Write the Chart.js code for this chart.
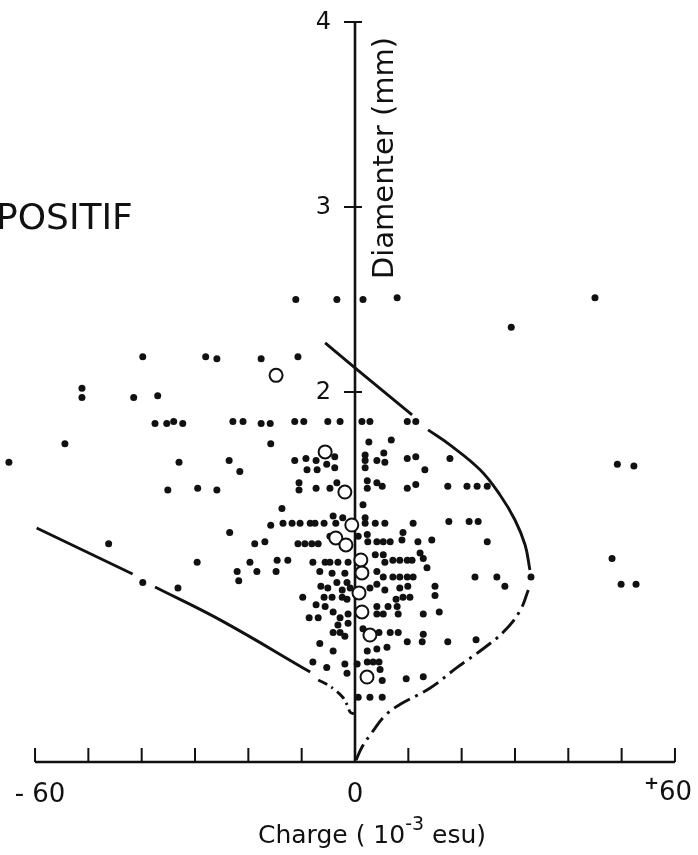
<!DOCTYPE html>
<html>
<head>
<meta charset="utf-8">
<script src="https://cdn.jsdelivr.net/npm/chart.js@4.4.1/dist/chart.umd.min.js"></script>
<style>
html, body { margin: 0; padding: 0; background: #fff; }
canvas { display: block; }
</style>
</head>
<body>
<canvas id="chart" width="698" height="855"></canvas>
<script>
// filled dots: charge (10^-3 esu) and diameter (mm)
const dotX = [
  -11.1, -3.4, 1.5, 7.9, 45.0, 29.3,
  -39.8, -28.0, -25.9, -17.6, -10.7,
  -51.2, -51.2, -41.5, -37.0,
  -37.5, -35.3, -34.0, -32.3, -22.9, -21.0, -17.6, -15.9, -11.3, -9.6, -5.1, -2.8, 1.3, 2.8, 9.8, 11.4,
  -54.4, -15.8, 2.6, 6.8,
  -64.9, -33.0, -23.6, -21.6, -11.3, -9.2, -7.3, -3.8, -5.3, 1.9, 1.9, 4.1, 5.4, 5.6, 9.8, 11.4, 17.8, 49.2, 52.3,
  -9.0, -7.1, -3.8, 1.9, 13.1,
  -35.1, -29.5, -25.9, -10.5, -10.5, -7.3, -4.7, -3.4, 2.3, 2.3, 4.1, 5.1, 9.8, 11.4, 17.4, 21.0, 22.9, 24.8,
  -13.7, 1.5,
  -23.5, -15.8, -13.5, -11.8, -10.3, -8.4, -7.5, -5.8, -4.1, -3.6, -2.3, 1.9, 1.9, 3.8, 5.6, 10.9, 17.6, 21.4, 23.1,
  -46.2, -18.8, -16.9, -10.7, -9.4, -8.1, -6.9, -4.7, 0.6, 2.3, 2.4, 4.1, 5.3, 6.6, 9.0, 8.8, 11.8, 14.4, 24.8,
  -29.6, -19.7, -14.6, -12.6, -7.9, -5.6, -4.7, -3.2, -1.3, 3.8, 5.3, 5.6, 7.1, 8.4, 9.8, 10.7, 12.2, 12.8, 13.5, 48.2,
  -22.1, -18.4, -14.8, -6.6, -4.3, -1.9, 4.1, 5.3, 7.1, 8.4, 9.8, 10.9, 22.5, 26.6, 33.0, 28.1, -33.2, -21.8, -39.8, 49.9, 52.7,
  -9.8, -6.4, -5.1, -3.4, -1.5, -2.4, -0.9, 2.8, 4.1, 5.6, 8.4, 9.9, 9.0, 10.3, 7.7, 15.0, 15.0, -5.8, -4.3, -2.4, -1.5,
  -7.3, -5.6, -4.1, -2.8, -1.3, -8.6, -6.9, 4.1, 4.1, 5.3, 6.2, 7.9, 8.1, 12.8, 15.8,
  -3.2, -1.3, -2.8, -4.1, -1.9, 1.5, 4.5, 6.6, 8.1, 9.8, 12.6, 12.8, 17.4, 22.7,
  -6.6, -4.1, 2.3, 4.1, 6.0,
  -7.9, -5.3, -1.9, -1.5, 0.4, 2.3, 3.4, 4.5, 4.7, 5.1, 9.6, 12.8,
  0.6, 2.8, 5.1
];
const dotY = [
  2.50, 2.50, 2.50, 2.51, 2.51, 2.35,
  2.19, 2.19, 2.18, 2.18, 2.19,
  2.02, 1.97, 1.97, 1.98,
  1.83, 1.83, 1.84, 1.83, 1.84, 1.84, 1.83, 1.83, 1.84, 1.84, 1.84, 1.84, 1.84, 1.84, 1.84, 1.84,
  1.72, 1.72, 1.73, 1.74,
  1.62, 1.62, 1.63, 1.57, 1.63, 1.64, 1.63, 1.65, 1.61, 1.66, 1.63, 1.63, 1.67, 1.62, 1.64, 1.65, 1.64, 1.61, 1.60,
  1.58, 1.58, 1.59, 1.59, 1.58,
  1.47, 1.48, 1.47, 1.51, 1.47, 1.48, 1.48, 1.51, 1.52, 1.48, 1.51, 1.49, 1.48, 1.50, 1.49, 1.49, 1.49, 1.49,
  1.37, 1.39,
  1.24, 1.28, 1.29, 1.29, 1.29, 1.29, 1.29, 1.29, 1.33, 1.29, 1.32, 1.32, 1.29, 1.29, 1.29, 1.29, 1.30, 1.30, 1.30,
  1.18, 1.18, 1.19, 1.18, 1.18, 1.18, 1.18, 1.22, 1.22, 1.23, 1.19, 1.19, 1.19, 1.19, 1.24, 1.20, 1.19, 1.20, 1.19,
  1.08, 1.08, 1.09, 1.09, 1.08, 1.08, 1.08, 1.08, 1.08, 1.12, 1.12, 1.08, 1.09, 1.09, 1.09, 1.09, 1.13, 1.10, 1.05, 1.10,
  1.03, 1.03, 1.03, 1.03, 1.02, 1.02, 1.03, 1.00, 1.00, 1.00, 1.00, 1.00, 1.00, 1.00, 1.00, 0.95, 0.94, 0.98, 0.97, 0.96, 0.96,
  0.89, 0.95, 0.94, 0.97, 0.97, 0.93, 0.94, 0.94, 0.96, 0.93, 0.94, 0.95, 0.89, 0.89, 0.88, 0.95, 0.90, 0.89, 0.89, 0.89, 0.88,
  0.85, 0.84, 0.81, 0.78, 0.80, 0.78, 0.78, 0.84, 0.80, 0.80, 0.84, 0.84, 0.80, 0.80, 0.81,
  0.74, 0.75, 0.70, 0.70, 0.68, 0.72, 0.70, 0.70, 0.70, 0.65, 0.65, 0.69, 0.65, 0.66,
  0.64, 0.60, 0.60, 0.61, 0.62,
  0.54, 0.51, 0.53, 0.48, 0.53, 0.54, 0.54, 0.54, 0.50, 0.44, 0.45, 0.46,
  0.35, 0.35, 0.35
];

// open circles
const ringX = [-14.8, -5.6, -1.9, -0.6, -3.6, -1.7, 1.1, 1.3, 0.75, 1.3, 2.8, 2.25];
const ringY = [2.09, 1.676, 1.459, 1.281, 1.211, 1.173, 1.092, 1.022, 0.914, 0.811, 0.686, 0.459];

// boundary curves (solid upper parts, dash-dot lower parts)
const leftAX = [-59.7, -41.7];
const leftAY = [1.265, 1.016];
const leftBX = [-37.5, -25.3, -8.4];
const leftBY = [0.946, 0.768, 0.486];
const leftDashX = [-6.9, -5.3, -3.8, -2.3, -1.5, -0.9, -0.2];
const leftDashY = [0.443, 0.42, 0.39, 0.35, 0.31, 0.27, 0.26];
const rightAX = [-5.6, 0, 10.7];
const rightAY = [2.265, 2.13, 1.876];
const rightBX = [13.7, 17.8, 23.5, 27.2, 30.0, 31.9, 32.8];
const rightBY = [1.795, 1.714, 1.578, 1.443, 1.308, 1.173, 1.038];
const rightDashX = [32.5, 31.0, 28.1, 24.4, 19.1, 14.1, 8.4, 5.6, 3.2, 1.3, 0.2];
const rightDashY = [0.93, 0.82, 0.71, 0.62, 0.51, 0.40, 0.31, 0.25, 0.16, 0.08, 0.01];

// axes
const xTicks = [-60, -50, -40, -30, -20, -10, 0, 10, 20, 30, 40, 50, 60];
const yTicks = [2, 3, 4];
const yTickLabels = ["2", "3", "4"];

const pts = (xs, ys) => xs.map((v, i) => ({ x: v, y: ys[i] }));
const ink = "#111";

function curve(xs, ys, dash) {
  return {
    data: pts(xs, ys),
    showLine: true,
    pointRadius: 0,
    borderColor: ink,
    borderWidth: 2.9,
    borderDash: dash || [],
    tension: 0.4,
    order: 3
  };
}

const axesPlugin = {
  id: "axes",
  beforeDatasetsDraw(chart) {
    const { ctx, scales: { x, y } } = chart;
    const x0 = x.getPixelForValue(0);
    const y0 = y.getPixelForValue(0);
    ctx.save();
    ctx.strokeStyle = ink;
    ctx.lineWidth = 2.6;
    ctx.beginPath();
    ctx.moveTo(x.getPixelForValue(xTicks[0]), y0);
    ctx.lineTo(x.getPixelForValue(xTicks[xTicks.length - 1]), y0);
    ctx.moveTo(x0, y0);
    ctx.lineTo(x0, y.getPixelForValue(4));
    ctx.stroke();
    ctx.lineWidth = 2;
    ctx.beginPath();
    xTicks.forEach(v => {
      const px = x.getPixelForValue(v);
      ctx.moveTo(px, y0);
      ctx.lineTo(px, y0 - 14);
    });
    yTicks.forEach(v => {
      const py = y.getPixelForValue(v);
      ctx.moveTo(x0 - 11, py);
      ctx.lineTo(x0 + 7, py);
    });
    ctx.stroke();
    ctx.restore();
  },
  afterDraw(chart) {
    const { ctx, scales: { x, y } } = chart;
    const x0 = x.getPixelForValue(0);
    const y0 = y.getPixelForValue(0);
    ctx.save();
    ctx.fillStyle = ink;

    // y tick labels
    ctx.font = "24px 'DejaVu Sans'";
    ctx.textAlign = "right";
    ctx.textBaseline = "middle";
    yTicks.forEach((v, i) => ctx.fillText(yTickLabels[i], x0 - 24, y.getPixelForValue(v) + 1));

    // x tick labels
    ctx.textBaseline = "alphabetic";
    ctx.font = "26px 'DejaVu Sans'";
    ctx.textAlign = "center";
    ctx.fillText("- 60", x.getPixelForValue(-60) + 5, y0 + 40);
    ctx.fillText("0", x0, y0 + 40);
    ctx.textAlign = "left";
    const p60 = x.getPixelForValue(60);
    ctx.fillText("60", p60 - 16, y0 + 38);
    ctx.font = "bold 18px 'DejaVu Sans'";
    ctx.fillText("+", p60 - 31, y0 + 27);

    // x axis title
    let tx = 258;
    const ty = y0 + 81;
    const put = (s, f, dy) => { ctx.font = f; ctx.fillText(s, tx, ty + dy); tx += ctx.measureText(s).width; };
    put("Charge ( 10", "25px 'DejaVu Sans'", 0);
    put("-3", "19px 'DejaVu Sans'", -13);
    put(" esu)", "25px 'DejaVu Sans'", 0);

    // y axis title
    ctx.save();
    ctx.translate(x0 + 30, 158);
    ctx.rotate(-Math.PI / 2);
    ctx.textAlign = "center";
    ctx.textBaseline = "middle";
    ctx.font = "29px 'DejaVu Sans'";
    ctx.fillText("Diamenter (mm)", 0, 0);
    ctx.restore();

    // panel label
    ctx.textAlign = "left";
    ctx.font = "36px 'DejaVu Sans'";
    ctx.fillText("POSITIF", -4, 229);
    ctx.restore();
  }
};

new Chart(document.getElementById("chart"), {
  type: "scatter",
  data: {
    datasets: [
      {
        data: pts(ringX, ringY),
        pointRadius: 6.5,
        pointBorderWidth: 2,
        pointBorderColor: ink,
        pointBackgroundColor: "#fff",
        order: 1
      },
      {
        data: pts(dotX, dotY),
        pointRadius: 3.5,
        pointBorderWidth: 0,
        pointBackgroundColor: ink,
        order: 2
      },
      curve(leftAX, leftAY),
      curve(leftBX, leftBY),
      curve(leftDashX, leftDashY, [10, 5, 2, 5]),
      curve(rightAX, rightAY),
      curve(rightBX, rightBY),
      curve(rightDashX, rightDashY, [18, 6, 3, 6])
    ]
  },
  options: {
    responsive: false,
    animation: false,
    devicePixelRatio: 1,
    layout: { padding: 0, autoPadding: false },
    plugins: { legend: { display: false }, tooltip: { enabled: false } },
    scales: {
      x: { type: "linear", min: -66.57, max: 64.32, display: false },
      y: { type: "linear", min: -0.503, max: 4.119, display: false }
    }
  },
  plugins: [axesPlugin]
});
</script>
</body>
</html>
